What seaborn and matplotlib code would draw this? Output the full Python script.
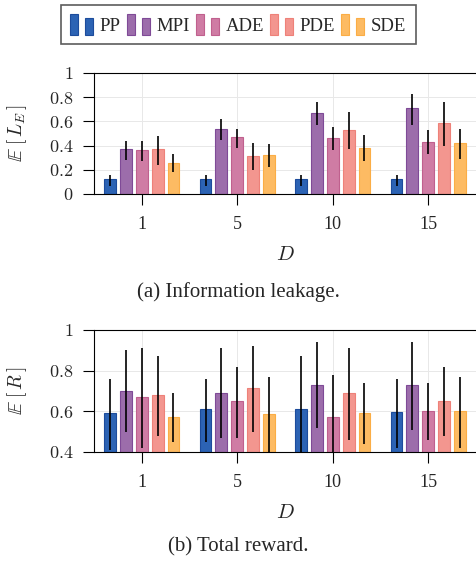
import numpy as np
import pandas as pd
import matplotlib
matplotlib.use('Agg')
import matplotlib.pyplot as plt
import seaborn as sns
from matplotlib.patches import Rectangle
from matplotlib.legend_handler import HandlerTuple, HandlerPatch

# categories
d_values = ['1', '5', '10', '15']
methods = ['PP', 'MPI', 'ADE', 'PDE', 'SDE']
colors = ['#2c63b4', '#9c6dab', '#cf7ca4', '#f3968f', '#fdbb63']
edges = ['#1d4c9c', '#7f4a97', '#c0608e', '#ee8179', '#fbad45']

# (a) information leakage: mean, lower and upper end of error bar (one row per method)
leak_mean = [[0.12, 0.12, 0.12, 0.12],
             [0.37, 0.54, 0.67, 0.71],
             [0.36, 0.47, 0.46, 0.43],
             [0.37, 0.31, 0.53, 0.59],
             [0.26, 0.32, 0.38, 0.42]]
leak_low = [[0.07, 0.07, 0.07, 0.07],
            [0.28, 0.45, 0.57, 0.57],
            [0.27, 0.38, 0.36, 0.33],
            [0.24, 0.20, 0.37, 0.40],
            [0.18, 0.22, 0.27, 0.29]]
leak_high = [[0.16, 0.16, 0.16, 0.16],
             [0.44, 0.62, 0.76, 0.83],
             [0.44, 0.54, 0.55, 0.53],
             [0.48, 0.42, 0.68, 0.76],
             [0.33, 0.41, 0.49, 0.54]]

# (b) total reward
rew_mean = [[0.59, 0.61, 0.61, 0.595],
            [0.70, 0.69, 0.73, 0.73],
            [0.67, 0.65, 0.57, 0.60],
            [0.68, 0.715, 0.69, 0.65],
            [0.57, 0.585, 0.59, 0.60]]
rew_low = [[0.41, 0.45, 0.36, 0.42],
           [0.50, 0.47, 0.52, 0.51],
           [0.42, 0.47, 0.37, 0.46],
           [0.48, 0.50, 0.46, 0.48],
           [0.45, 0.39, 0.44, 0.42]]
rew_high = [[0.76, 0.76, 0.87, 0.76],
            [0.90, 0.91, 0.94, 0.94],
            [0.91, 0.82, 0.78, 0.74],
            [0.87, 0.92, 0.91, 0.82],
            [0.69, 0.77, 0.74, 0.77]]


def to_frame(mean):
    rows = []
    for m, vals in zip(methods, mean):
        for d, v in zip(d_values, vals):
            rows.append({'D': d, 'method': m, 'value': v})
    return pd.DataFrame(rows)


sns.set_style('white')
plt.rcParams['font.family'] = ['Liberation Serif', 'DejaVu Serif']
plt.rcParams['mathtext.fontset'] = 'cm'

fig = plt.figure(figsize=(4.76, 5.64), dpi=100)
ax1 = fig.add_axes([94 / 476, 1 - 194 / 564, 1 - 94 / 476, 121 / 564])
ax2 = fig.add_axes([94 / 476, 1 - 452 / 564, 1 - 94 / 476, 122 / 564])


def draw(ax, mean, low, high, ylim, yticks, ylabel):
    df = to_frame(mean)
    sns.barplot(data=df, x='D', y='value', hue='method', hue_order=methods,
                order=d_values, palette=colors, saturation=1, width=0.83, gap=0.25,
                errorbar=None, legend=False, ax=ax, linewidth=0.8, zorder=2)
    for i, cont in enumerate(ax.containers):
        for j, bar in enumerate(cont):
            bar.set_edgecolor(edges[i])
            xc = bar.get_x() + bar.get_width() / 2
            ax.vlines(xc, low[i][j], high[i][j], color='black', lw=1.2, zorder=3)
    ax.set_xlim(-0.5, 3.5)
    ax.set_ylim(*ylim)
    ax.set_yticks(yticks)
    ax.set_yticklabels(['$%g$' % t for t in yticks], fontsize=13)
    ax.set_xticks(range(len(d_values)))
    ax.set_xticklabels(d_values, fontsize=13)
    ax.grid(True, color='#e8e8e8', lw=0.7)
    ax.set_axisbelow(True)
    ax.tick_params(axis='both', direction='out', length=8, width=0.8, color='black',
                   bottom=True, left=True)
    ax.tick_params(axis='y', pad=7)
    ax.tick_params(axis='x', pad=8)
    for s in ['left', 'bottom', 'top']:
        ax.spines[s].set_visible(True)
        ax.spines[s].set_color('black')
        ax.spines[s].set_linewidth(0.8)
    ax.spines['right'].set_visible(False)
    ax.set_xlabel('$D$', fontsize=15, labelpad=9)
    ax.set_ylabel(ylabel, fontsize=14)
    ax.yaxis.set_label_coords(-0.17, 0.5)


draw(ax1, leak_mean, leak_low, leak_high, (0, 1), [0, 0.2, 0.4, 0.6, 0.8, 1], r'$\mathbb{E}\;[\,L_E\,]$')
draw(ax2, rew_mean, rew_low, rew_high, (0.4, 1), [0.4, 0.6, 0.8, 1], r'$\mathbb{E}\;[\,R\,]$')

fig.text(0.5, 1 - 292 / 564, '(a) Information leakage.', ha='center', va='center', fontsize=15)
fig.text(0.5, 1 - 547 / 564, '(b) Total reward.', ha='center', va='center', fontsize=15)


def short_bar(legend, orig_handle, xdescent, ydescent, width, height, fontsize):
    return Rectangle((-xdescent, -ydescent), width, height * 0.8)


handles = []
hmap = {}
for c, e in zip(colors, edges):
    tall = Rectangle((0, 0), 1, 1, fc=c, ec=e, lw=0.8)
    short = Rectangle((0, 0), 1, 1, fc=c, ec=e, lw=0.8)
    hmap[short] = HandlerPatch(patch_func=short_bar)
    handles.append((tall, short))
hmap[tuple] = HandlerTuple(ndivide=None, pad=0.35)
leg = fig.legend(handles, methods, loc='upper center', bbox_to_anchor=(0.5, 1 - 5 / 564),
                 ncol=5, fontsize=13.5, frameon=True, fancybox=False, edgecolor='#333333',
                 handlelength=1.25, handleheight=1.3, handletextpad=0.35, columnspacing=0.3,
                 borderpad=0.5, borderaxespad=0, handler_map=hmap)
leg.get_frame().set_linewidth(1.2)

fig.savefig('out.png', dpi=100)
